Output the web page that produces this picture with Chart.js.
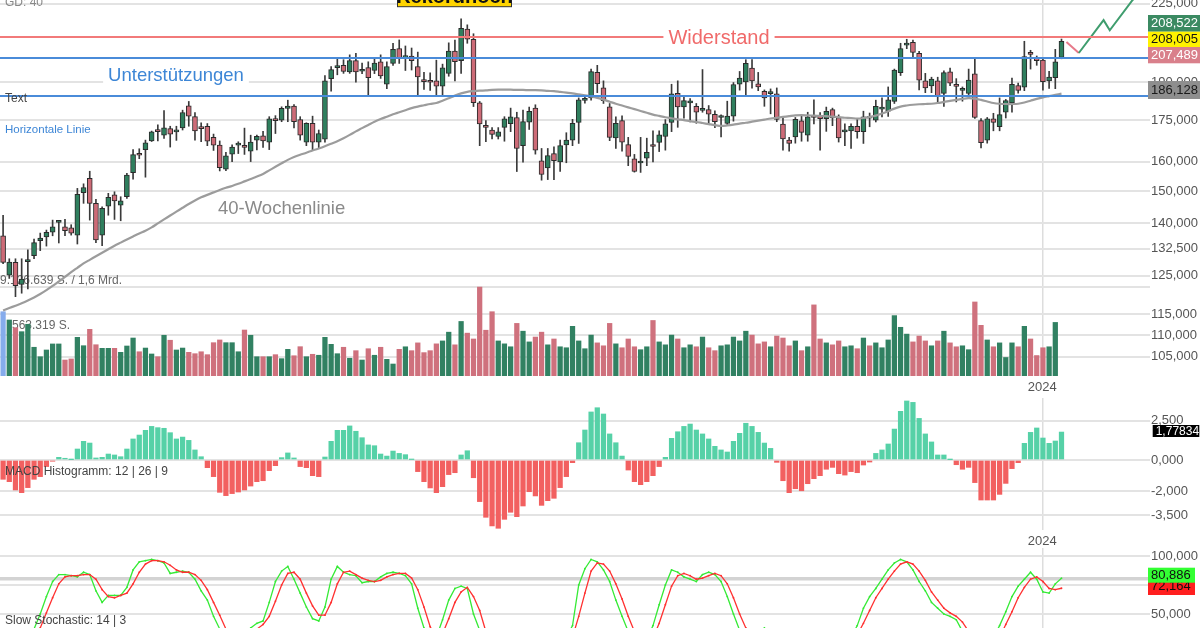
<!DOCTYPE html>
<html><head><meta charset="utf-8">
<script src="https://cdn.jsdelivr.net/npm/chart.js@4.4.1/dist/chart.umd.min.js"></script>
<style>
html,body{margin:0;padding:0;background:#fff;}
body{width:1200px;height:628px;overflow:hidden;position:relative;}
canvas.pane{position:absolute;left:0;}
</style></head><body>
<canvas id="cPrice" class="pane" width="1200" height="400" style="top:0px"></canvas>
<canvas id="cMacd" class="pane" width="1200" height="160" style="top:390px"></canvas>
<canvas id="cStoch" class="pane" width="1200" height="124" style="top:548px"></canvas>
<script>
const FONT = '"Liberation Sans", Arial, Helvetica, sans-serif';

// ---------- DATA (weekly candles) ----------
const weeks = [...Array(172).keys()];
const opens = [
136.3,125.2,128.7,122.7,128.9,130.6,134.9,136.0,137.4,140.3,
139.0,138.7,136.5,149.6,154.3,146.2,136.5,145.3,148.9,145.6,
148.3,156.2,162.8,164.2,167.3,171.1,169.4,171.8,170.6,172.1,
180.5,176.3,172.2,172.7,168.6,165.8,157.4,162.6,165.8,165.6,
163.6,167.6,169.2,166.9,175.2,175.0,179.5,180.4,175.2,166.9,
173.8,166.9,167.9,191.4,196.0,197.0,194.2,199.0,194.5,196.0,
194.8,198.5,189.1,197.8,204.3,200.3,201.0,196.5,190.7,190.3,
190.5,188.3,193.6,203.1,199.0,213.0,208.4,181.7,172.8,171.3,
168.9,172.3,173.7,176.0,165.6,174.2,179.6,160.3,157.8,162.8,
159.9,165.9,167.6,174.1,182.6,183.6,194.0,187.6,180.1,168.4,
174.8,166.0,161.0,159.5,161.2,165.8,166.8,168.9,174.1,185.4,
180.1,181.6,180.3,178.7,179.0,177.2,176.0,173.8,176.5,189.1,
190.1,195.8,189.3,186.2,185.3,185.2,173.5,167.6,168.8,174.7,
169.4,176.5,176.8,175.5,179.0,176.0,170.6,171.0,172.7,170.7,
176.0,175.0,179.2,178.4,182.2,193.9,205.8,207.0,202.2,190.5,
188.4,190.5,185.4,194.2,188.6,186.6,185.4,193.4,174.8,167.6,
175.5,172.5,178.0,181.6,188.6,187.9,202.6,200.0,199.2,190.5,
191.8,200.4];
const highs = [
142.5,129.7,129.7,129.7,132.2,135.3,137.1,138.0,141.0,140.8,
141.2,139.6,151.0,152.5,156.7,147.5,145.1,149.4,149.9,148.3,
156.0,164.2,164.5,167.6,170.9,173.2,178.6,172.7,172.7,178.8,
182.2,177.9,174.0,173.7,169.8,167.3,163.2,165.9,167.0,172.0,
169.4,169.4,170.8,176.3,176.7,180.1,182.7,181.0,176.3,174.0,
176.5,171.3,192.7,196.5,199.6,199.4,201.5,202.2,198.0,198.5,
200.0,201.5,198.5,206.6,208.1,205.4,204.5,202.7,194.0,193.8,
199.2,197.5,206.8,208.0,217.8,215.0,210.9,182.2,174.8,172.2,
172.2,176.3,179.6,178.0,178.8,180.0,180.9,164.6,164.6,165.2,
167.6,170.3,175.3,183.6,183.8,195.4,197.0,190.5,181.4,176.2,
176.6,168.6,162.5,168.6,168.3,171.0,171.0,175.2,189.1,190.5,
184.0,183.3,181.4,195.2,180.6,178.5,177.0,182.3,189.8,194.4,
199.4,199.4,194.0,186.8,187.2,187.6,176.4,168.6,176.0,177.0,
178.0,182.8,177.9,180.0,179.6,177.0,173.6,173.6,175.3,178.4,
177.7,182.7,183.6,188.0,195.4,206.6,208.4,208.0,203.0,193.6,
192.0,192.0,194.7,195.8,191.4,188.0,195.4,199.6,175.6,176.0,
177.6,183.6,183.0,191.6,189.6,207.5,203.5,201.0,199.6,194.5,
203.9,208.5];
const lows = [
128.3,124.3,119.5,120.4,121.5,129.7,132.0,133.3,136.3,134.2,
136.3,136.5,133.9,146.2,141.0,134.3,133.4,142.5,141.2,140.8,
147.8,154.0,161.0,154.7,167.1,167.3,168.2,165.1,167.5,171.3,
172.7,167.6,167.0,165.6,163.9,156.8,156.9,160.0,162.8,162.5,
160.0,164.1,165.0,164.2,170.0,174.4,174.4,172.1,167.6,165.6,
164.0,164.6,166.9,186.3,193.0,193.6,193.6,190.0,193.5,184.8,
193.5,191.5,187.3,197.0,197.8,194.8,195.0,184.8,187.0,186.6,
184.8,184.8,192.4,190.5,193.6,206.6,180.2,165.6,167.0,168.0,
168.0,167.2,170.7,156.6,159.8,171.5,162.6,153.7,153.9,153.9,
156.6,159.6,165.6,166.4,181.5,182.7,185.7,181.4,167.4,164.6,
163.6,158.6,156.4,156.3,158.6,159.9,163.5,164.0,170.7,172.3,
175.7,174.3,173.8,178.0,173.4,172.2,168.8,173.2,174.6,186.7,
184.3,187.5,186.5,180.3,177.4,174.4,164.0,163.6,166.5,167.2,
167.2,173.6,164.0,170.8,172.9,166.9,165.6,164.6,168.3,166.4,
172.5,174.3,176.2,176.4,181.4,192.7,204.2,200.4,186.8,185.7,
185.7,181.8,180.3,188.5,182.0,182.3,183.5,175.6,164.8,166.5,
171.0,171.0,175.8,178.0,185.5,186.5,195.4,197.0,186.7,187.4,
187.3,199.8];
const closes = [
128.7,128.8,122.4,124.1,129.3,134.3,135.6,137.3,139.0,140.5,
137.8,137.1,149.1,151.3,146.2,135.1,144.6,148.1,147.0,147.0,
155.4,162.4,162.2,166.6,170.6,170.7,172.1,169.8,170.9,177.9,
176.5,171.0,171.8,167.2,165.8,157.9,162.0,165.1,166.2,165.0,
166.9,169.0,167.3,175.5,174.8,179.5,180.4,174.4,169.4,173.8,
166.9,170.0,190.5,195.2,196.5,194.4,199.0,194.2,194.8,191.8,
198.0,192.5,196.5,203.9,199.9,200.8,199.0,192.1,190.2,189.9,
188.3,195.9,203.1,198.5,213.4,208.4,181.7,173.6,172.3,169.7,
170.6,175.5,176.2,164.6,174.4,178.4,164.0,155.6,162.1,160.3,
165.6,167.6,173.8,182.8,183.2,194.3,189.3,182.5,168.6,173.8,
166.9,161.8,156.6,160.0,163.2,165.3,169.5,173.6,185.2,180.1,
182.5,182.4,178.0,178.9,177.3,174.4,176.3,176.5,189.0,191.6,
197.8,190.5,188.0,183.6,186.0,175.3,168.0,166.4,175.3,170.4,
176.2,176.0,175.5,178.4,175.8,168.4,170.9,172.7,170.7,176.2,
175.7,180.3,179.6,182.8,195.0,204.3,206.5,202.6,190.8,187.6,
191.2,184.2,193.9,189.5,188.2,187.0,190.8,176.0,166.7,175.5,
174.1,177.1,182.5,189.1,186.6,200.7,201.7,199.0,190.2,192.0,
198.5,207.5];
const ma40 = [
116.0,116.6,117.2,117.8,118.5,119.3,120.2,121.2,122.3,123.5,
124.7,126.0,127.2,128.4,129.4,130.4,131.4,132.4,133.4,134.3,
135.2,136.1,137.0,137.8,138.8,140.0,141.2,142.4,143.6,144.8,
146.0,147.1,148.1,148.9,149.7,150.5,151.2,151.8,152.5,153.3,
154.1,154.9,155.8,157.0,158.2,159.4,160.6,161.6,162.4,163.1,
163.9,164.6,165.4,166.3,167.2,168.3,169.5,170.8,172.0,173.2,
174.4,175.4,176.3,177.2,178.0,178.8,179.6,180.2,180.7,181.2,
181.6,182.5,183.5,184.5,185.4,186.0,186.3,186.5,186.6,186.8,
186.9,186.9,186.9,186.8,186.8,186.7,186.7,186.6,186.4,186.3,
186.0,185.7,185.4,185.0,184.6,184.2,183.6,182.9,182.1,181.3,
180.6,179.9,179.2,178.5,177.8,177.1,176.6,176.1,175.7,175.3,
175.0,174.6,174.3,173.9,173.5,173.1,172.8,173.0,173.3,173.7,
174.0,174.4,174.8,175.2,175.6,175.9,176.2,176.5,176.8,176.9,
176.8,176.7,176.6,176.5,176.3,176.1,175.9,175.8,175.6,175.8,
176.2,176.7,177.5,178.4,179.4,180.2,180.6,180.9,181.1,181.2,
181.3,181.6,182.0,182.4,182.8,183.2,183.5,183.3,182.8,182.2,
181.6,181.3,181.2,181.2,181.3,181.8,182.5,183.2,183.8,184.3,
184.8,185.3];
// volume in million shares
const volumes = [
6.60,5.75,4.96,4.55,5.31,2.95,1.98,2.67,3.29,3.29,
1.64,1.75,3.97,3.11,4.79,3.21,2.84,2.84,2.84,2.43,
3.08,3.90,2.49,2.87,2.26,1.98,4.18,3.67,2.67,2.87,
2.43,2.29,2.49,2.19,3.42,3.70,3.42,3.42,2.49,4.72,
4.18,1.98,1.98,1.98,2.19,1.78,2.74,2.08,3.01,1.98,
2.23,2.13,3.97,3.25,2.29,2.95,1.82,2.60,1.64,2.80,
2.13,2.95,1.71,1.23,2.74,3.0,2.6,3.4,2.4,2.6,
3.3,3.6,4.5,3.2,5.6,4.4,3.8,9.13,4.7,6.6,
3.6,3.3,3.0,5.4,4.6,3.5,4.0,4.5,3.2,3.8,
3.0,2.9,5.1,3.6,2.8,4.2,3.4,3.1,5.4,3.3,
2.9,3.8,3.0,2.7,3.0,5.7,3.5,3.2,4.2,3.8,
2.9,3.2,3.0,4.0,2.9,2.6,3.1,3.2,4.0,3.6,
4.6,4.2,3.3,3.5,3.0,4.1,3.9,3.1,3.6,2.6,
3.0,7.3,3.8,3.4,3.2,3.6,3.0,3.1,2.8,3.9,
3.1,3.4,2.9,3.7,6.2,5.0,4.3,3.5,4.1,3.6,
3.1,3.6,4.6,3.4,3.0,3.1,2.7,7.6,5.2,3.7,
3.0,3.4,1.9,3.4,3.0,5.1,3.8,2.1,2.9,3.0,
5.5,null];
const macdHist = [
-1.23,-1.38,-1.91,-2.08,-1.76,-1.23,-1.06,-0.42,-0.08,0.17,
0.11,0.02,0.70,1.19,1.08,0.13,0.17,0.38,0.32,0.21,
0.70,1.34,1.59,1.89,2.14,2.06,2.02,1.74,1.34,1.46,
1.25,0.64,0.21,-0.49,-1.06,-2.06,-2.27,-2.14,-2.04,-1.91,
-1.66,-1.38,-1.32,-0.68,-0.36,0.15,0.45,0.13,-0.42,-0.49,
-1.00,-1.06,0.19,1.19,1.89,1.89,2.17,1.83,1.42,0.96,
0.91,0.38,0.25,0.57,0.42,0.34,0.03,-0.74,-1.38,-1.78,
-2.08,-1.70,-0.93,-0.81,0.32,0.59,-1.13,-2.65,-3.65,-4.20,
-4.35,-3.78,-3.33,-3.61,-2.93,-2.02,-2.29,-2.89,-2.59,-2.44,
-1.76,-1.06,-0.17,1.10,1.91,3.06,3.33,2.93,1.66,1.10,
0.25,-0.64,-1.38,-1.57,-1.38,-1.00,-0.42,0.17,1.38,1.80,
2.14,2.29,1.91,1.66,1.34,0.87,0.64,0.51,1.19,1.70,
2.34,2.14,1.76,1.08,0.74,-0.15,-1.32,-2.08,-1.83,-1.96,
-1.51,-1.19,-1.00,-0.59,-0.47,-0.87,-0.96,-0.74,-0.81,-0.32,
-0.13,0.42,0.64,1.02,1.97,3.10,3.76,3.67,2.65,1.66,
1.15,0.32,0.32,0.02,-0.30,-0.59,-0.47,-1.44,-2.55,-2.55,
-2.55,-2.19,-1.49,-0.55,-0.17,1.06,1.76,2.04,1.40,1.06,
1.21,1.78];
const stochK = [
12,15,18,22,28,37,50,65,78,84,
84,83,82,86,84,70,60,66,66,66,
73,88,95,96,97,96,94,85,86,87,
86,80,70,62,48,37,25,15,18,30,
38,42,44,60,78,87,91,80,68,56,
46,44,56,80,91,86,84,83,77,78,
78,82,85,86,85,83,76,55,38,25,
30,45,62,72,74,72,50,36,20,12,
10,15,20,14,18,25,18,10,8,12,
20,30,40,75,89,97,95,88,78,62,
48,35,22,20,28,40,58,75,88,86,
82,80,78,84,86,84,78,65,50,36,
28,25,30,38,30,20,10,8,15,20,
25,22,28,35,28,20,25,30,40,55,
65,72,80,88,94,97,95,88,78,70,
60,55,50,48,45,35,25,15,10,20,
30,40,52,65,74,80,86,80,69,68,
76,80.9];
const stochD = [
14,14,16,19,23,29,38,51,64,76,
82,83,83,84,84,80,71,65,64,66,
68,76,86,93,96,96,95,92,88,86,
86,84,79,71,60,49,37,26,19,21,
28,37,41,48,61,75,85,86,80,68,
57,49,49,60,76,86,87,84,81,79,
78,79,82,84,85,85,81,71,56,39,
31,33,46,60,69,73,65,53,35,23,
14,12,15,16,17,19,20,18,12,10,
13,21,30,48,68,87,94,93,87,76,
63,48,35,26,23,29,42,58,74,83,
85,83,80,81,83,85,83,76,64,50,
38,30,28,31,33,29,20,13,11,14,
20,22,25,28,30,28,24,25,32,42,
53,64,72,80,87,93,95,93,87,79,
69,62,55,51,48,43,35,25,17,15,
20,30,41,52,64,73,80,82,78,72,
71,72.2];
const priceTicks = [105,110,115,125,132.5,140,150,160,175,190,225];
const macdTicks = [2.5,0,-2,-3.5];
const stochTicks = [100,80,75,50];
const stochLabelled = [100,50];
const stochSignalLevel = 80;
const yearLabel = '2024';
const yearTickPos = 167.9;
const resistanceLevel = 209.4;
const supportLevels = [200.2,184.4];
const forecastRedX = [171.8,173.8], forecastRedY = [207.2,202.3];
const forecastGreenX = [173.8,177.8,178.8,182.5,184.6], forecastGreenY = [202.3,217.2,212.5,226.9,232.0];
const volumeMaxMio = 9.127;
const badgeHigh = 208.522, badgeLevel = 208.005, badgeClose = 207.489, badgeMA = 186.128;
const badgeMacd = 1.77834, badgeK = 80.886, badgeD = 72.164;

// ---------- layout / style ----------
const X_MIN = -0.5, X_MAX = 185.3;
const PRICE_MIN = 100.68, PRICE_MAX = 226.85, VOL_AXIS_MAX = 38.6;
const MACD_MIN = -4.459, MACD_MAX = 3.949, STOCH_MIN = 0, STOCH_MAX = 106.9;
const GRID = '#e3e3e3';
const UP = '#2f7f5e', DOWN = '#cd6b77';
const VUP = '#318162', VDOWN = '#cf717d', VFIRST = '#86acec';
const MUP = '#56d1a7', MDOWN = '#f26060';

function fmt(v, d){ return v.toFixed(d).replace('.', ','); }
const isUp = i => closes[i] >= opens[i];

Chart.defaults.font.family = FONT;
Chart.defaults.animation = false;
Chart.defaults.events = [];
Chart.defaults.plugins.legend.display = false;
Chart.defaults.plugins.tooltip.enabled = false;

function noPad(s){ s.paddingTop = 0; s.paddingBottom = 0; s.paddingLeft = 0; s.paddingRight = 0; }
function xAxis(showLabels, height){
  return {
    type:'linear', min:X_MIN, max:X_MAX, bounds:'data', offset:false, position:'bottom',
    grid:{color:'#dddddd', lineWidth:1.5, drawTicks:false, offset:false},
    border:{display:false},
    ticks:{display:showLabels, color:'#555', font:{size:13}, padding:4, maxRotation:0, autoSkip:false,
      callback:()=>yearLabel},
    afterBuildTicks:s=>{ s.ticks=[{value:yearTickPos}]; },
    afterFit:s=>{ s.height = height; noPad(s); }
  };
}
function rightAxis(extra){
  return Object.assign({
    position:'right', bounds:'data',
    grid:{color:GRID, lineWidth:2, drawTicks:false},
    border:{display:false},
    afterFit:s=>{ s.width = 50; noPad(s); }
  }, extra);
}
function badge(ctx, x, yTop, w, h, bg, fg, text, size){
  ctx.fillStyle = bg; ctx.fillRect(x, yTop, w, h);
  ctx.fillStyle = fg; ctx.font = (size||13)+'px '+FONT;
  ctx.textAlign='left'; ctx.textBaseline='middle';
  ctx.fillText(text, x+3, yTop+h/2+0.5);
}

// ---------- price + volume ----------
const priceDecor = {
  id:'priceDecor',
  beforeDatasetsDraw(chart){
    const ctx = chart.ctx; ctx.save();
    ctx.font = '12px '+FONT; ctx.fillStyle = '#666'; ctx.textAlign='left'; ctx.textBaseline='middle';
    ctx.fillText('9.126.639 S. / 1,6 Mrd.', 0, 281);
    ctx.fillText('563.319 S.', 12, 326);
    ctx.restore();
  },
  afterDatasetsDraw(chart){
    const {ctx, chartArea:ca, scales:{y}} = chart;
    ctx.save();
    const hline = (v, c)=>{ const py = Math.round(y.getPixelForValue(v)); ctx.strokeStyle=c; ctx.lineWidth=2;
      ctx.beginPath(); ctx.moveTo(ca.left, py); ctx.lineTo(ca.right, py); ctx.stroke(); return py; };
    const ry = hline(resistanceLevel, '#f27a7a');
    supportLevels.forEach(v=>hline(v, '#4a8bd9'));
    const boxText = (txt, cx, cy, size, color)=>{
      ctx.font = size+'px '+FONT; const w = ctx.measureText(txt).width;
      ctx.fillStyle='#fff'; ctx.fillRect(cx-w/2-5, cy-size*0.62, w+10, size*1.24);
      ctx.fillStyle=color; ctx.textAlign='center'; ctx.textBaseline='middle'; ctx.fillText(txt, cx, cy+1);
    };
    boxText('Widerstand', 719, ry, 20, '#f06a6a');
    boxText('Unterstützungen', 176, 75, 18.5, '#3d86d6');
    ctx.textAlign='left'; ctx.textBaseline='middle';
    ctx.font='18.5px '+FONT; ctx.fillStyle='#8a8a8a'; ctx.fillText('40-Wochenlinie', 218, 209);
    ctx.font='12px '+FONT; ctx.fillStyle='#444'; ctx.fillText('Text', 5, 99);
    ctx.font='11.5px '+FONT; ctx.fillStyle='#3d86d6'; ctx.fillText('Horizontale Linie', 5, 130);
    ctx.font='12px '+FONT; ctx.fillStyle='#888'; ctx.fillText('GD: 40', 5, 3);
    // yellow label at the top (cut off)
    ctx.fillStyle='#ffd400'; ctx.fillRect(397, -12, 115, 18.7);
    ctx.strokeStyle='#333'; ctx.lineWidth=1; ctx.strokeRect(397.5, -12, 114, 18.7);
    ctx.fillStyle='#111'; ctx.font='bold 20px '+FONT; ctx.textAlign='center'; ctx.textBaseline='alphabetic';
    ctx.fillText('Rekordhoch', 454.5, 2.7);
    // right side badges
    badge(ctx, 1148, 15, 52, 16.7, '#3b8a62', '#fff', fmt(badgeHigh,3));
    badge(ctx, 1148, 31.7, 52, 15.3, '#fff200', '#111', fmt(badgeLevel,3));
    badge(ctx, 1148, 47, 52, 16.3, '#d9808b', '#fff', fmt(badgeClose,3));
    badge(ctx, 1148, 81, 52, 18, '#8e8e8e', '#1a1a1a', fmt(badgeMA,3));
    ctx.restore();
  }
};

new Chart(document.getElementById('cPrice'), {
  type:'bar',
  data:{ datasets:[
    {type:'bar', yAxisID:'yv', data:weeks.map(i=>({x:i, y:volumes[i]})),
      backgroundColor:c=> c.dataIndex===0 ? VFIRST : (isUp(c.dataIndex)?VUP:VDOWN),
      barThickness:4.6, grouped:false, order:6},
    {type:'bar', yAxisID:'y', data:weeks.map(i=>({x:i, y:[lows[i], highs[i]]})),
      backgroundColor:'#3a3a3a', barThickness:1, grouped:false, order:5},
    {type:'bar', yAxisID:'y', data:weeks.map(i=>({x:i, y:[opens[i], closes[i]]})),
      backgroundColor:c=> isUp(c.dataIndex)?UP:DOWN, borderColor:'#2a2a2a', borderWidth:1,
      borderSkipped:false, barThickness:5, minBarLength:2, grouped:false, order:4},
    {type:'line', yAxisID:'y', data:weeks.map(i=>({x:i, y:ma40[i]})),
      borderColor:'#9c9c9c', borderWidth:2.2, pointRadius:0, tension:0.3, order:3},
    {type:'line', yAxisID:'y', data:forecastRedX.map((x,k)=>({x, y:forecastRedY[k]})),
      borderColor:'#e7798a', borderWidth:2, pointRadius:0, order:2},
    {type:'line', yAxisID:'y', data:forecastGreenX.map((x,k)=>({x, y:forecastGreenY[k]})),
      borderColor:'#3f9d6e', borderWidth:2, pointRadius:0, order:1}
  ]},
  options:{
    responsive:false, devicePixelRatio:1,
    layout:{padding:0, autoPadding:false},
    scales:{
      x: xAxis(true, 24),
      y: rightAxis({type:'logarithmic', min:PRICE_MIN, max:PRICE_MAX,
        ticks:{color:'#555', font:{size:13}, padding:1, crossAlign:'near', autoSkip:false, callback:v=>fmt(v,3)},
        afterBuildTicks:s=>{ s.ticks = priceTicks.map(v=>({value:v})); }}),
      yv: {type:'linear', position:'right', min:0, max:VOL_AXIS_MAX, bounds:'data',
        grid:{color:GRID, lineWidth:2, drawTicks:false}, border:{display:false},
        ticks:{display:false},
        afterBuildTicks:s=>{ s.ticks=[{value:volumeMaxMio}]; },
        afterFit:s=>{ s.width = 0; noPad(s); }}
    }
  },
  plugins:[priceDecor]
});

// ---------- MACD ----------
const macdDecor = {
  id:'macdDecor',
  afterDatasetsDraw(chart){
    const ctx = chart.ctx; ctx.save();
    ctx.font='12px '+FONT; ctx.fillStyle='#444'; ctx.textAlign='left'; ctx.textBaseline='middle';
    ctx.fillText('MACD Histogramm: 12 | 26 | 9', 5, 82);
    badge(ctx, 1152.7, 35, 46.6, 12, '#000', '#fff', fmt(badgeMacd,5), 12);
    ctx.restore();
  }
};
new Chart(document.getElementById('cMacd'), {
  type:'bar',
  data:{ datasets:[{
    data:weeks.map(i=>({x:i, y:macdHist[i]})),
    backgroundColor:c=> (macdHist[c.dataIndex]>=0?MUP:MDOWN),
    barThickness:4.6, grouped:false
  }]},
  options:{
    responsive:false, devicePixelRatio:1,
    layout:{padding:{top:8}, autoPadding:false},
    scales:{
      x: xAxis(true, 20),
      y: rightAxis({type:'linear', min:MACD_MIN, max:MACD_MAX,
        ticks:{color:'#555', font:{size:13}, padding:1, crossAlign:'near', autoSkip:false, callback:v=>fmt(v,3)},
        afterBuildTicks:s=>{ s.ticks = macdTicks.map(v=>({value:v})); }})
    }
  },
  plugins:[macdDecor]
});

// ---------- Slow Stochastic ----------
const stochDecor = {
  id:'stochDecor',
  afterDatasetsDraw(chart){
    const ctx = chart.ctx; ctx.save();
    ctx.font='12px '+FONT; ctx.fillStyle='#444'; ctx.textAlign='left'; ctx.textBaseline='middle';
    ctx.fillText('Slow Stochastic: 14 | 3', 5, 73);
    badge(ctx, 1148, 29, 47, 18, '#ff1f1f', '#111', fmt(badgeD,3));
    badge(ctx, 1148, 19.7, 47, 15, '#33ff33', '#111', fmt(badgeK,3));
    ctx.restore();
  }
};
new Chart(document.getElementById('cStoch'), {
  type:'line',
  data:{ datasets:[
    {data:weeks.map(i=>({x:i, y:stochD[i]})), borderColor:'#ff3030', borderWidth:1.3,
      pointRadius:0.9, pointBackgroundColor:'#ff3030', pointBorderWidth:0, tension:0},
    {data:weeks.map(i=>({x:i, y:stochK[i]})), borderColor:'#35ea35', borderWidth:1.3,
      pointRadius:0.9, pointBackgroundColor:'#35ea35', pointBorderWidth:0, tension:0}
  ]},
  options:{
    responsive:false, devicePixelRatio:1,
    layout:{padding:0, autoPadding:false},
    scales:{
      x: xAxis(false, 0),
      y: rightAxis({type:'linear', min:STOCH_MIN, max:STOCH_MAX,
        grid:{drawTicks:false,
          color:c=> (c.tick && c.tick.value===stochSignalLevel) ? '#d3d3d3' : GRID,
          lineWidth:c=> (c.tick && c.tick.value===stochSignalLevel) ? 3.5 : 2},
        ticks:{color:'#555', font:{size:13}, padding:1, crossAlign:'near', autoSkip:false,
          callback:v=> stochLabelled.includes(v) ? fmt(v,3) : ''},
        afterBuildTicks:s=>{ s.ticks = stochTicks.map(v=>({value:v})); }})
    }
  },
  plugins:[stochDecor]
});
</script></body></html>
